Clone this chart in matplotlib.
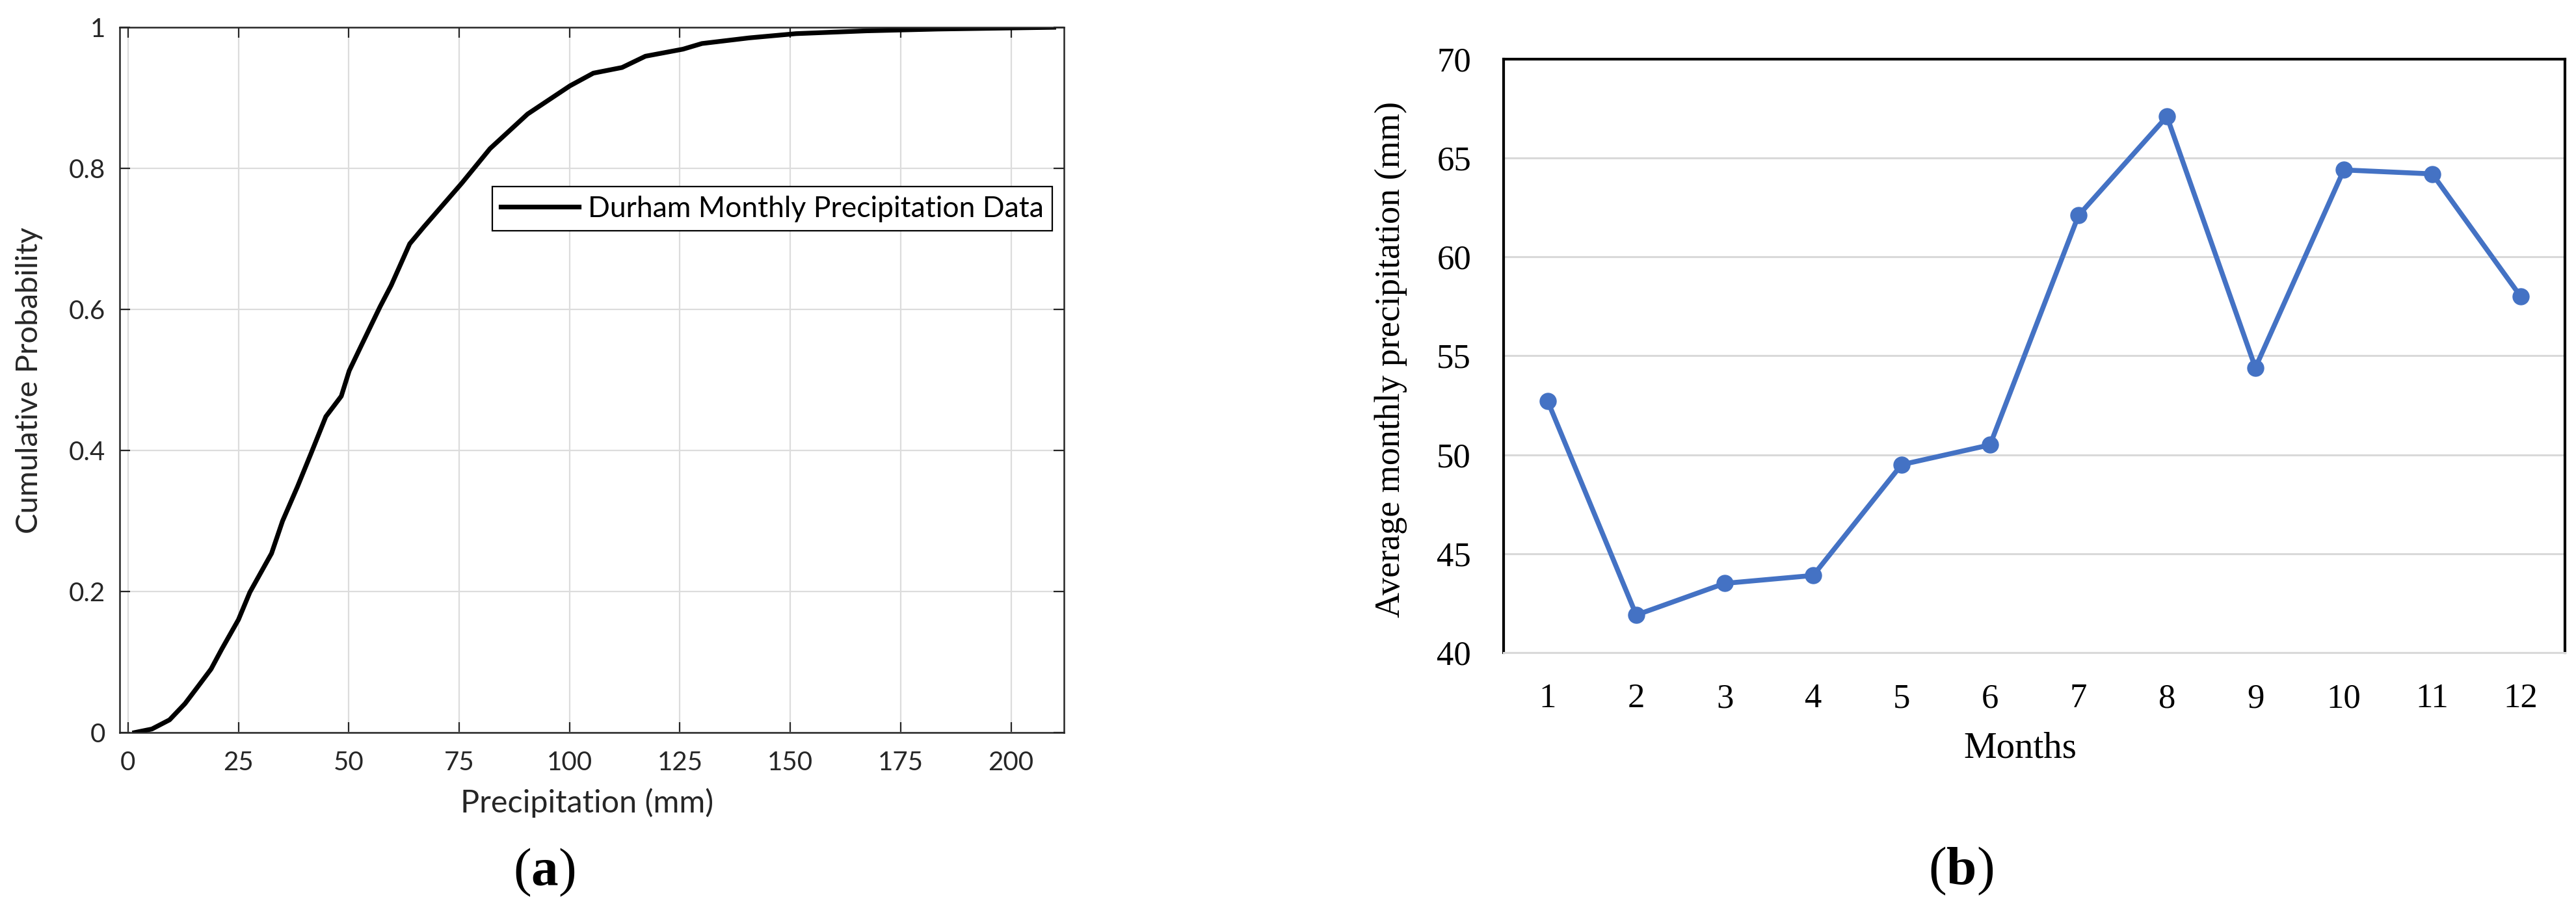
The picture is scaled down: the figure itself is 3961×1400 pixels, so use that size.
import matplotlib
matplotlib.use('Agg')
import matplotlib.pyplot as plt

precip = [1.5, 5.4, 9.4, 12.9, 15.8, 18.8, 21.2, 25.0, 27.6, 32.5, 35.0, 38.4,
          41.4, 44.8, 48.3, 50.1, 52.7, 57.1, 59.6, 63.8, 67.0, 75.6, 82.0,
          90.5, 100.1, 105.4, 111.9, 117.2, 125.7, 130.0, 140.7, 151.3, 167.3,
          183.4, 209.7]
cum_prob = [0.0, 0.005, 0.018, 0.041, 0.065, 0.090, 0.118, 0.160, 0.199, 0.254,
            0.300, 0.349, 0.395, 0.448, 0.477, 0.513, 0.547, 0.604, 0.634,
            0.693, 0.717, 0.779, 0.828, 0.877, 0.917, 0.935, 0.943, 0.959,
            0.969, 0.977, 0.985, 0.991, 0.995, 0.9975, 1.0]
x_ticks_a = [0, 25, 50, 75, 100, 125, 150, 175, 200]
y_ticks_a = [0, 0.2, 0.4, 0.6, 0.8, 1]
y_ticklabels_a = ['0', '0.2', '0.4', '0.6', '0.8', '1']
legend_label = 'Durham Monthly Precipitation Data'

# (b) average monthly precipitation
months = [1, 2, 3, 4, 5, 6, 7, 8, 9, 10, 11, 12]
avg_precip = [52.7, 41.9, 43.5, 43.9, 49.5, 50.5, 62.1, 67.1, 54.4, 64.4, 64.2, 58.0]
y_ticks_b = [40, 45, 50, 55, 60, 65, 70]

plt.rcParams['mathtext.fontset'] = 'custom'
plt.rcParams['mathtext.rm'] = 'Liberation Serif'
plt.rcParams['mathtext.bf'] = 'Liberation Serif:bold'

W, H = 3961, 1400
fig = plt.figure(figsize=(W / 100, H / 100), dpi=100)

# ---------------- panel (a): MATLAB look ----------------
dark = '#262626'
ax1 = fig.add_axes([184 / W, 1 - 1127 / H, (1636 - 184) / W, (1127 - 42) / H])
ax1.plot(precip, cum_prob, color='black', lw=5.2, label=legend_label,
         solid_joinstyle='round')
ax1.set_xlim(-1.9, 212)
ax1.set_ylim(0, 1)
ax1.set_xticks(x_ticks_a)
ax1.set_yticks(y_ticks_a)
ax1.set_yticklabels(y_ticklabels_a)
ax1.grid(True, color='#dcdcdc', lw=1.6)
ax1.set_axisbelow(True)
for s in ax1.spines.values():
    s.set_color(dark)
    s.set_linewidth(1.8)
ax1.tick_params(direction='in', length=11.5, width=1.6, top=True, right=True,
                colors=dark, labelsize=29)
ax1.tick_params(axis='x', pad=20)
ax1.tick_params(axis='y', pad=16)
for lab in ax1.get_xticklabels() + ax1.get_yticklabels():
    lab.set_family('Lato')
ax1.set_xlabel('Precipitation (mm)', family='Lato', fontsize=35, color=dark,
               va='center')
ax1.xaxis.set_label_coords(0.495, -0.0995)
ax1.set_ylabel('Cumulative Probability', family='Lato', fontsize=34, color=dark,
               va='center')
ax1.yaxis.set_label_coords(-0.0957, 0.4995)
leg = ax1.legend(loc='upper right', bbox_to_anchor=(0.9876, 0.774),
                 borderaxespad=0, prop={'family': 'Lato', 'size': 32},
                 fancybox=False, framealpha=1, edgecolor='black',
                 handlelength=2.7, handletextpad=0.3, borderpad=0.3)
leg.get_frame().set_linewidth(1.6)

# ---------------- panel (b): Excel look ----------------
blue = '#4472C4'
ax2 = fig.add_axes([2312 / W, 1 - 1004 / H, (3944 - 2312) / W, (1004 - 91) / H])
ax2.plot(months, avg_precip, color=blue, lw=5.5, marker='o', markersize=18,
         solid_joinstyle='round')
ax2.set_xlim(0.5, 12.5)
ax2.set_ylim(40, 70)
ax2.set_xticks(months)
ax2.set_yticks(y_ticks_b)
ax2.yaxis.grid(True, color='#d9d9d9', lw=2.2)
ax2.set_axisbelow(True)
for side in ['left', 'top', 'right']:
    ax2.spines[side].set_color('black')
    ax2.spines[side].set_linewidth(3)
ax2.spines['bottom'].set_color('#d9d9d9')
ax2.spines['bottom'].set_linewidth(2.2)
ax2.tick_params(length=0, labelsize=38, colors='black')
ax2.tick_params(axis='x', pad=34)
ax2.tick_params(axis='y', pad=36)
for lab in ax2.get_xticklabels() + ax2.get_yticklabels():
    lab.set_family('Liberation Serif')
ax2.set_xlabel('Months', family='Liberation Serif', fontsize=41, va='center')
ax2.xaxis.set_label_coords(0.487, -0.162)
ax2.set_ylabel('Average monthly precipitation (mm)', family='Liberation Serif',
               fontsize=39, va='center')
ax2.yaxis.set_label_coords(-0.106, 0.494)

# panel letters
fig.text(837 / W, 1 - 1342 / H, r'($\mathbf{a}$)', family='Liberation Serif',
         fontsize=60, ha='center', va='center')
fig.text(3015 / W, 1 - 1340 / H, r'($\mathbf{b}$)', family='Liberation Serif',
         fontsize=60, ha='center', va='center')

fig.savefig('out.png', dpi=100, facecolor='white')
